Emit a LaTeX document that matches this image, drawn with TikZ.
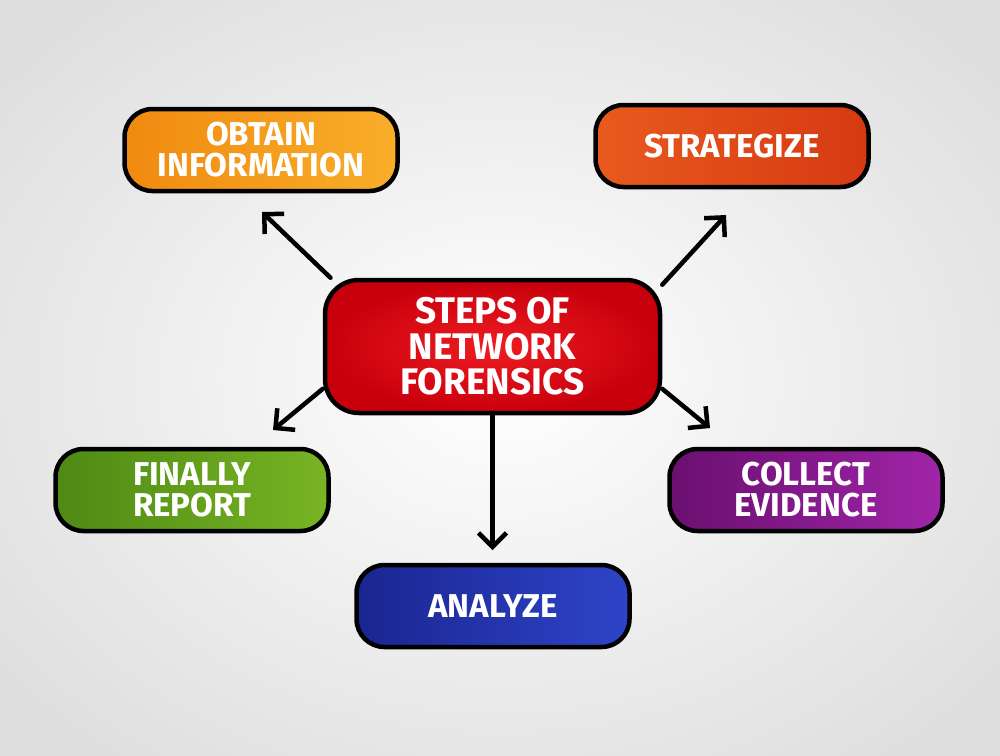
\documentclass[tikz,border=0pt]{standalone}
\usepackage{fontspec}
\setmainfont{Fira Sans}
\usetikzlibrary{arrows.meta,backgrounds}
\definecolor{obtainA}{HTML}{F08A10}
\definecolor{obtainB}{HTML}{F9AE2A}
\definecolor{stratA}{HTML}{E85A1E}
\definecolor{stratB}{HTML}{D63A12}
\definecolor{coreA}{HTML}{C8000C}
\definecolor{coreB}{HTML}{EE1C22}
\definecolor{reportA}{HTML}{4E8A14}
\definecolor{reportB}{HTML}{78B423}
\definecolor{collectA}{HTML}{6A0F70}
\definecolor{collectB}{HTML}{A025A8}
\definecolor{analyzeA}{HTML}{1A2590}
\definecolor{analyzeB}{HTML}{2E44C8}
\begin{document}
\begin{tikzpicture}[x=1pt,y=-1pt,
  box/.style={draw=black, line width=4.5pt, rounded corners=28pt,
    minimum width=273pt, minimum height=82pt, text=white, align=center,
    font=\bfseries\fontsize{33}{31}\selectfont},
  arr/.style={line width=4.5pt, line cap=round,
    -{Straight Barb[length=14pt,width=28pt]}}]
\useasboundingbox (0,0) rectangle (1000,755);
\begin{pgfonlayer}{background}
\shade[inner color=white, outer color=black!13] (-150,-120) rectangle (1150,875);
\end{pgfonlayer}
% the five steps round the middle
\node[box, left color=obtainA, right color=obtainB] (obtain) at (261,150) {OBTAIN\\INFORMATION};
\node[box, left color=stratA, right color=stratB] (strat) at (732,146) {STRATEGIZE};
\node[box, left color=reportA, right color=reportB] (report) at (192,490) {FINALLY\\REPORT};
\node[box, left color=collectA, right color=collectB] (collect) at (806,490) {COLLECT\\EVIDENCE};
\node[box, left color=analyzeA, right color=analyzeB] (analyze) at (493,606) {ANALYZE};
\node[box, inner color=coreB, outer color=coreA, rounded corners=34pt,
  minimum width=335pt, minimum height=133pt,
  font=\bfseries\fontsize{37}{35.5}\selectfont] (core) at (492.5,346.5) {STEPS OF\\NETWORK\\FORENSICS};
\coordinate (tip1) at (262,212);
\coordinate (tip2) at (726,215);
\coordinate (tip3) at (273,430);
\coordinate (tip4) at (710,428);
\coordinate (tip5) at (492.5,550);
\begin{pgfonlayer}{background}
\draw[arr] (core.157) -- (tip1);
\draw[arr] (core.20) -- (tip2);
\draw[arr] (core.194) -- (tip3);
\draw[arr] (core.346) -- (tip4);
\draw[arr] (core.south) -- (tip5);
\end{pgfonlayer}
\end{tikzpicture}
\end{document}
